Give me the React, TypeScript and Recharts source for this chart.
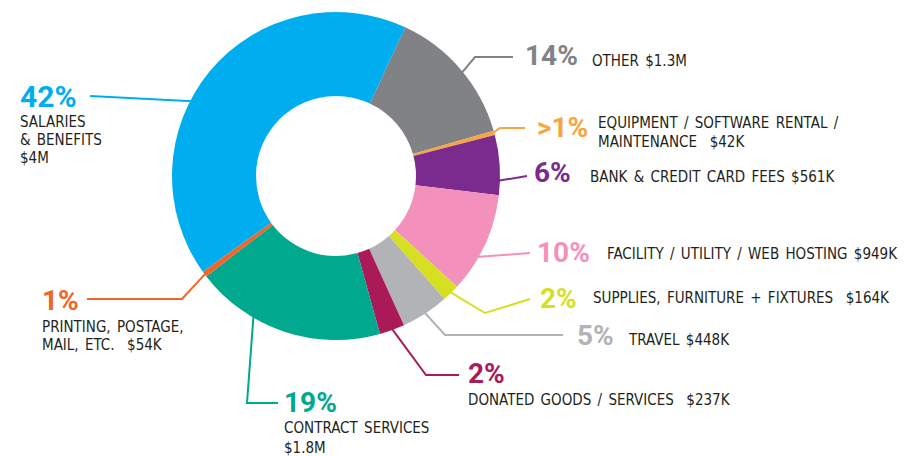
import { PieChart, Pie, Cell } from "recharts";

// budget categories, clockwise from the top-right
const categories = [
  "OTHER",
  "EQUIPMENT",
  "BANK",
  "FACILITY",
  "SUPPLIES",
  "TRAVEL",
  "DONATED",
  "CONTRACT",
  "PRINTING",
  "SALARIES",
];
// spend in $K
const amounts = [1300, 42, 561, 949, 164, 448, 237, 1800, 54, 4000];
const pctLabels = ["14%", ">1%", "6%", "10%", "2%", "5%", "2%", "19%", "1%", "42%"];
const descLines = [
  ["OTHER $1.3M"],
  ["EQUIPMENT / SOFTWARE RENTAL /", "MAINTENANCE  $42K"],
  ["BANK & CREDIT CARD FEES $561K"],
  ["FACILITY / UTILITY / WEB HOSTING $949K"],
  ["SUPPLIES, FURNITURE + FIXTURES  $164K"],
  ["TRAVEL $448K"],
  ["DONATED GOODS / SERVICES  $237K"],
  ["CONTRACT SERVICES", "$1.8M"],
  ["PRINTING, POSTAGE,", "MAIL, ETC.  $54K"],
  ["SALARIES", "& BENEFITS", "$4M"],
];

const colors = [
  "#808285",
  "#f7a541",
  "#7b2a8e",
  "#f391bc",
  "#d7df23",
  "#b1b3b6",
  "#ab1a58",
  "#00a88e",
  "#f26527",
  "#00aeef",
];

// annotation layout: anchor angle on the rim (null = slice middle), leader bends, text spots
type Layout = {
  anchor: number | null;
  bends: [number, number][];
  pct: [number, number, number];
  text: [number, number];
  lineGap: number;
};
const layout: Layout[] = [
  { anchor: 39.3, bends: [[475, 57], [513, 57]], pct: [525, 65, 28], text: [592, 66], lineGap: 19 },
  { anchor: null, bends: [[500, 128], [525, 128]], pct: [537, 137, 28], text: [598, 128], lineGap: 19 },
  { anchor: -1.7, bends: [[527, 176]], pct: [534, 182, 28], text: [590, 182], lineGap: 19 },
  { anchor: -30, bends: [[530, 253]], pct: [537, 262, 28], text: [607, 259], lineGap: 19 },
  { anchor: null, bends: [[485, 313], [530, 299]], pct: [540, 308, 28], text: [593, 303], lineGap: 19 },
  { anchor: null, bends: [[445, 335], [563, 335]], pct: [577, 345, 28], text: [629, 345], lineGap: 19 },
  { anchor: null, bends: [[426, 375], [459, 375]], pct: [468, 383, 28], text: [468, 405], lineGap: 19 },
  { anchor: -120.6, bends: [[247, 403], [278, 403]], pct: [284, 412, 28], text: [284, 433], lineGap: 20 },
  { anchor: null, bends: [[182, 299], [87, 299]], pct: [42, 310, 28], text: [42, 332], lineGap: 18 },
  { anchor: 152.5, bends: [[90, 96]], pct: [20, 107, 30], text: [20, 127], lineGap: 18 },
];

const data = categories.map((name, i) => ({ name, value: amounts[i] }));

const RAD = Math.PI / 180;
const TEXT_FONT = "'DejaVu Sans Condensed', 'DejaVu Sans', sans-serif";
const PCT_FONT = "Roboto, sans-serif";

function renderLabel(props: any) {
  const { cx, cy, midAngle, outerRadius, index } = props;
  const l = layout[index];
  const angle = l.anchor ?? midAngle;
  const sx = cx + Math.cos(-angle * RAD) * (outerRadius - 2);
  const sy = cy + Math.sin(-angle * RAD) * (outerRadius - 2);
  const pts = [[sx, sy], ...l.bends].map((p) => p.join(",")).join(" ");
  const color = colors[index];
  return (
    <g key={`lbl-${index}`}>
      <polyline points={pts} fill="none" stroke={color} strokeWidth={2} />
      <text
        x={l.pct[0]}
        y={l.pct[1]}
        fill={color}
        fontFamily={PCT_FONT}
        fontWeight={700}
        fontSize={l.pct[2]}
      >
        {pctLabels[index]}
      </text>
      {descLines[index].map((line, j) => (
        <text
          key={j}
          x={l.text[0]}
          y={l.text[1] + j * l.lineGap}
          fill="#231f20"
          fontFamily={TEXT_FONT}
          fontSize={15}
          wordSpacing={2}
          style={{ whiteSpace: "pre" }}
        >
          {line}
        </text>
      ))}
    </g>
  );
}

export default function App() {
  return (
    <div style={{ position: "absolute", left: 0, top: 0, background: "#fff" }}>
      <PieChart width={922} height={456}>
        <Pie
          data={data}
          dataKey="value"
          nameKey="name"
          cx={331}
          cy={171}
          innerRadius={80}
          outerRadius={164}
          startAngle={65}
          endAngle={-295}
          stroke="none"
          label={renderLabel}
          labelLine={false}
          isAnimationActive={false}
        >
          {data.map((d, i) => (
            <Cell key={d.name} fill={colors[i]} />
          ))}
        </Pie>
      </PieChart>
    </div>
  );
}
